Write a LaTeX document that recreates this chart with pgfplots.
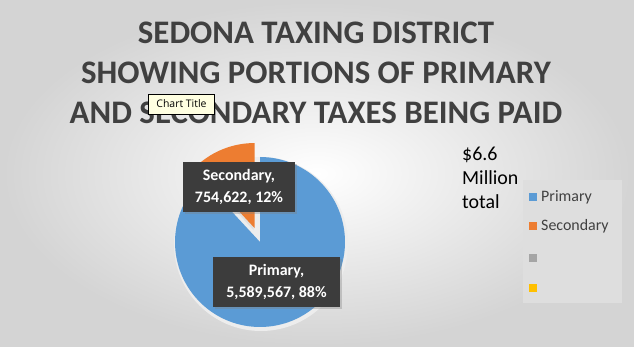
\documentclass[border=0pt]{standalone}
\usepackage{pgfplots}
\pgfplotsset{compat=1.18}
\usepackage{pgfplotstable}
\usepackage{fontspec}
\setmainfont{Carlito}
\newfontfamily\uifont{Open Sans}
\usetikzlibrary{shadows}
\definecolor{pblue}{HTML}{5B9BD5}
\definecolor{porange}{HTML}{ED7D31}
\definecolor{pgray}{HTML}{A5A5A5}
\definecolor{pyellow}{HTML}{FFC000}
\definecolor{txt}{HTML}{404040}
\definecolor{lbl}{HTML}{3C3C3C}
\definecolor{legbg}{HTML}{DEDEDE}
\definecolor{tipbg}{HTML}{FFFFE1}

\pgfplotstableread{
name value
Primary 5589567
Secondary 754622
}\piedata

\begin{document}
\begin{tikzpicture}
\pgfplotstablegetelem{0}{value}\of\piedata \let\vA\pgfplotsretval
\pgfplotstablegetelem{1}{value}\of\piedata \let\vB\pgfplotsretval
\edef\angB{\fpeval{360*\vB/(\vA+\vB)}}
\edef\angS{\fpeval{90+\angB}}
\edef\angM{\fpeval{90+\angB/2}}
\edef\ox{\fpeval{260+15*cosd(\angM)}}
\edef\oy{\fpeval{105+15*sind(\angM)}}
\begin{axis}[
  scale only axis, width=634bp, height=347bp,
  xmin=0, xmax=634, ymin=0, ymax=347,
  hide axis, clip=false,
]
% background
\shade[inner color=white, outer color=black!17] (axis cs:0,0) rectangle (axis cs:634,347);
% pie shadow
\fill[black!7] (axis cs:261,103) circle[radius=87bp];
% primary slice
\fill[pblue] (axis cs:260,105) -- ++(\angS:85bp) arc[start angle=\angS, end angle=450, radius=85bp] -- cycle;
% secondary slice (exploded)
\fill[black!12] (axis cs:\ox,\oy) ++(-1bp,-2bp) -- ++(90:85bp) arc[start angle=90, end angle=\angS, radius=85bp] -- cycle;
\fill[porange] (axis cs:\ox,\oy) -- ++(90:85bp) arc[start angle=90, end angle=\angS, radius=85bp] -- cycle;
% data labels
\node[fill=lbl, text=white, font=\bfseries\fontsize{16}{23}\selectfont, align=center,
  minimum width=112bp, minimum height=50bp, inner sep=2bp,
  drop shadow={shadow xshift=2bp, shadow yshift=-2bp, opacity=0.35}]
  at (axis cs:239,160) {Secondary,\\754,622, 12\%};
\node[fill=lbl, text=white, font=\bfseries\fontsize{16}{23}\selectfont, align=center,
  minimum width=127bp, minimum height=50bp, inner sep=2bp,
  drop shadow={shadow xshift=2bp, shadow yshift=-2bp, opacity=0.35}]
  at (axis cs:276.5,65) {Primary,\\5,589,567, 88\%};
% title
\node[text=txt, font=\bfseries\fontsize{33}{40}\selectfont, align=center]
  at (axis cs:316,274) {SEDONA TAXING DISTRICT\\SHOWING PORTIONS OF PRIMARY\\AND SECONDARY TAXES BEING PAID};
% tooltip
\node[fill=tipbg, draw=black, line width=0.6bp, font=\uifont\fontsize{10.5}{12}\selectfont,
  inner sep=1.5bp, minimum width=66bp, minimum height=20bp, anchor=center]
  at (axis cs:181.5,243) {Chart Title};
% total text
\node[anchor=north west, align=left, font=\fontsize{20}{24}\selectfont, text=black, inner sep=0pt]
  at (axis cs:462,200) {\$6.6\\Million\\total};
% legend
\fill[legbg] (axis cs:523,44) rectangle (axis cs:622,167);
\fill[pblue] (axis cs:529,146) rectangle (axis cs:537,154);
\fill[porange] (axis cs:529,117) rectangle (axis cs:537,125);
\fill[pgray] (axis cs:529,85) rectangle (axis cs:537,93);
\fill[pyellow] (axis cs:529,55) rectangle (axis cs:537,63);
\node[anchor=west, text=txt, font=\fontsize{16}{18}\selectfont, inner sep=0pt] at (axis cs:541,150) {Primary};
\node[anchor=west, text=txt, font=\fontsize{16}{18}\selectfont, inner sep=0pt] at (axis cs:541,121) {Secondary};
\end{axis}
\end{tikzpicture}
\end{document}
